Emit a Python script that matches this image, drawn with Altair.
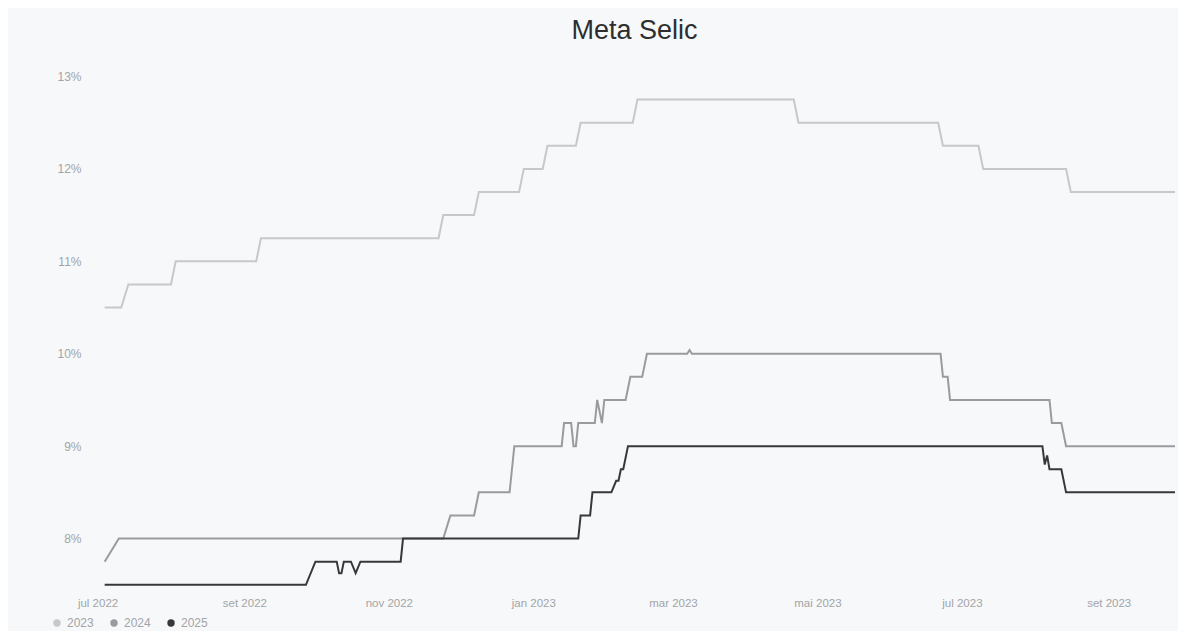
import altair as alt
import pandas as pd

# ---------------- data ----------------
titulo = "Meta Selic"
series = ["2023", "2024", "2025"]
cores = ["#c6c8cb", "#9a9b9e", "#383838"]

datas_2023 = ["2022-07-04", "2022-07-11", "2022-07-14", "2022-08-01", "2022-08-03",
              "2022-09-06", "2022-09-08", "2022-11-22", "2022-11-24", "2022-12-07",
              "2022-12-09", "2022-12-26", "2022-12-28", "2023-01-05", "2023-01-07",
              "2023-01-19", "2023-01-21", "2023-02-12", "2023-02-14", "2023-04-21",
              "2023-04-23", "2023-06-21", "2023-06-23", "2023-07-08", "2023-07-10",
              "2023-08-14", "2023-08-16", "2023-09-29"]
valores_2023 = [10.50, 10.50, 10.75, 10.75, 11.00,
                11.00, 11.25, 11.25, 11.50, 11.50,
                11.75, 11.75, 12.00, 12.00, 12.25,
                12.25, 12.50, 12.50, 12.75, 12.75,
                12.50, 12.50, 12.25, 12.25, 12.00,
                12.00, 11.75, 11.75]

datas_2024 = ["2022-07-04", "2022-07-10", "2022-11-24", "2022-11-27", "2022-12-07",
              "2022-12-09", "2022-12-22", "2022-12-24", "2023-01-13", "2023-01-14",
              "2023-01-17", "2023-01-18", "2023-01-19", "2023-01-20", "2023-01-27",
              "2023-01-28", "2023-01-30", "2023-01-31", "2023-02-09", "2023-02-11",
              "2023-02-16", "2023-02-18", "2023-03-07", "2023-03-08", "2023-03-09",
              "2023-06-22", "2023-06-23", "2023-06-25", "2023-06-26", "2023-08-07",
              "2023-08-08", "2023-08-12", "2023-08-14", "2023-09-29"]
valores_2024 = [7.75, 8.00, 8.00, 8.25, 8.25,
                8.50, 8.50, 9.00, 9.00, 9.25,
                9.25, 9.00, 9.00, 9.25, 9.25,
                9.50, 9.25, 9.50, 9.50, 9.75,
                9.75, 10.00, 10.00, 10.04, 10.00,
                10.00, 9.75, 9.75, 9.50, 9.50,
                9.25, 9.25, 9.00, 9.00]

datas_2025 = ["2022-07-04", "2022-09-27", "2022-10-01", "2022-10-10", "2022-10-11",
              "2022-10-12", "2022-10-13", "2022-10-16", "2022-10-18", "2022-10-20",
              "2022-11-06", "2022-11-07", "2023-01-20", "2023-01-21", "2023-01-25",
              "2023-01-26", "2023-02-03", "2023-02-05", "2023-02-06", "2023-02-07",
              "2023-02-08", "2023-02-10", "2023-08-04", "2023-08-05", "2023-08-06",
              "2023-08-07", "2023-08-12", "2023-08-14", "2023-09-29"]
valores_2025 = [7.50, 7.50, 7.75, 7.75, 7.625,
                7.625, 7.75, 7.75, 7.625, 7.75,
                7.75, 8.00, 8.00, 8.25, 8.25,
                8.50, 8.50, 8.625, 8.625, 8.75,
                8.75, 9.00, 9.00, 8.80, 8.90,
                8.75, 8.75, 8.50, 8.50]

y_ticks = [8, 9, 10, 11, 12, 13]
x_ticks = ["2022-07-01", "2022-09-01", "2022-11-01", "2023-01-01",
           "2023-03-01", "2023-05-01", "2023-07-01", "2023-09-01"]
meses_pt = ["jan", "fev", "mar", "abr", "mai", "jun",
            "jul", "ago", "set", "out", "nov", "dez"]

# ---------------- table ----------------
rows = []
for s, ds, vs in zip(series, [datas_2023, datas_2024, datas_2025],
                     [valores_2023, valores_2024, valores_2025]):
    for d, v in zip(ds, vs):
        rows.append({"data": d, "valor": v, "serie": s})
df = pd.DataFrame(rows)


def dt(s, hours=0):
    y, m, d = [int(p) for p in s.split("-")]
    return alt.DateTime(year=y, month=m, date=d, hours=hours, utc=True)


month_arr = "[" + ",".join("'%s'" % m for m in meses_pt) + "]"
x_label_expr = month_arr + "[utcmonth(datum.value)] + ' ' + utcyear(datum.value)"

FONT = "Liberation Sans"
LABEL_COLOR = "#a3a4a6"

x = alt.X(
    "data:T",
    scale=alt.Scale(type="utc", domain=[dt("2022-06-29", 12), dt("2023-09-29")]),
    axis=alt.Axis(
        values=[dt(t) for t in x_ticks],
        labelExpr=x_label_expr,
        title=None, grid=False, domain=False, ticks=False, tickSize=0,
        labelPadding=3, labelFontSize=11.5, labelColor=LABEL_COLOR, labelFont=FONT,
    ),
)
y = alt.Y(
    "valor:Q",
    scale=alt.Scale(domain=[7.4, 13.2], nice=False, zero=False),
    axis=alt.Axis(
        values=y_ticks, labelExpr="datum.value + '%'",
        title=None, grid=False, domain=False, ticks=False, tickSize=0,
        labelPadding=13, labelFontSize=12, labelColor=LABEL_COLOR, labelFont=FONT,
    ),
)

legend = alt.Legend(
    orient="none", legendX=-43, legendY=559, direction="horizontal",
    title=None, symbolType="circle", symbolSize=55, symbolOpacity=1,
    symbolStrokeWidth=0, padding=0,
    labelFontSize=12, labelColor=LABEL_COLOR, labelFont=FONT,
    columnPadding=14, labelOffset=4,
)

lines = alt.Chart(df).mark_line(strokeWidth=2).encode(
    x=x, y=y,
    color=alt.Color("serie:N", scale=alt.Scale(domain=series, range=cores), legend=None),
    order="data:T",
)

legend_pts = alt.Chart(df).mark_point(filled=True, size=0).encode(
    x=x, y=y,
    color=alt.Color("serie:N", scale=alt.Scale(domain=series, range=cores), legend=legend),
)

chart = (
    alt.layer(lines, legend_pts)
    .resolve_scale(color="independent")
    .resolve_legend(color="independent")
    .properties(
        width=1081, height=536,
        title=alt.TitleParams(titulo, fontSize=27, font=FONT, color="#2e2e2e",
                              fontWeight="normal", anchor="middle", offset=13),
        autosize="none",
        padding={"left": 86, "top": 50, "right": 3, "bottom": 37},
        background="#f7f8fa",
    )
    .configure_view(stroke=None)
)

chart.save("out.html", embed_options={"renderer": "svg", "actions": False})
